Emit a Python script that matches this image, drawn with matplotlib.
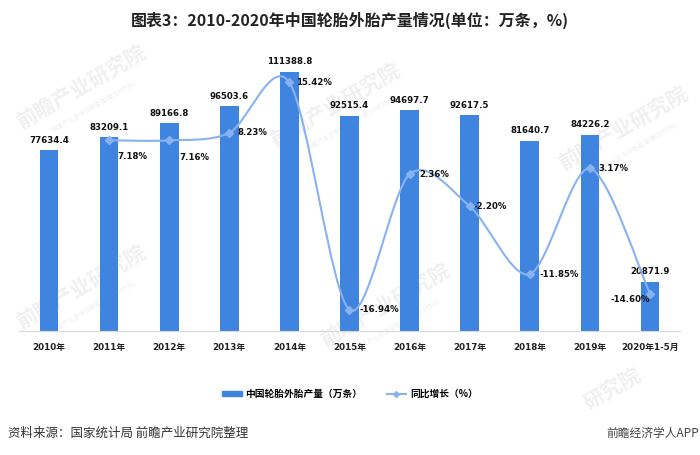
import matplotlib
matplotlib.use("Agg")
from matplotlib import pyplot as plt
from matplotlib.path import Path
from matplotlib.patches import PathPatch
from matplotlib.lines import Line2D
from matplotlib.patches import Patch

plt.rcParams['font.family'] = ['DejaVu Sans', 'Noto Sans CJK SC']

years = ['2010年', '2011年', '2012年', '2013年', '2014年', '2015年',
         '2016年', '2017年', '2018年', '2019年', '2020年1-5月']
output = [77634.4, 83209.1, 89166.8, 96503.6, 111388.8, 92515.4,
          94697.7, 92617.5, 81640.7, 84226.2, 20871.9]
growth = [7.18, 7.16, 8.23, 15.42, -16.94, 2.36, -2.20, -11.85, 3.17, -14.60]
growth_labels = ['7.18%', '7.16%', '8.23%', '15.42%', '-16.94%', '2.36%',
                 '-2.20%', '-11.85%', '3.17%', '-14.60%']

bar_color = '#3F85E0'
line_color = '#88B2F0'

fig = plt.figure(figsize=(7, 4.55), dpi=100)

# faint watermarks behind the chart
wm_pos = [(0.115, 0.81), (0.115, 0.37), (0.479, 0.769), (0.55, 0.33), (0.89, 0.72)]
for wx, wy in wm_pos:
    fig.text(wx, wy, '前瞻产业研究院', ha='center', va='center', rotation=30,
             fontsize=15, fontweight='bold', family=['Noto Sans CJK SC'],
             color='#F0F0F0', zorder=-2)
    fig.text(wx + 0.02, wy - 0.045, '中国产业咨询领导者(股票:839599)', ha='center', va='center',
             rotation=30, fontsize=4.5, family=['Noto Sans CJK SC'], color='#EFEFEF', zorder=-2)
fig.text(0.875, 0.145, '研究院', ha='center', va='center', rotation=30,
         fontsize=15, fontweight='bold', family=['Noto Sans CJK SC'], color='#F0F0F0', zorder=-2)

ax = fig.add_axes([0.0271, 0.2736, 0.9443, 0.5945])
ax.patch.set_visible(False)
ax2 = ax.twinx()

x = list(range(len(years)))
ax.bar(x, output, width=0.31, color=bar_color, zorder=2)
ax.set_xlim(-0.5, 10.5)
ax.set_ylim(0, 116400)
ax2.set_ylim(-19.86, 18.59)

for a in (ax, ax2):
    for s in a.spines.values():
        s.set_visible(False)
    a.set_yticks([])
ax.spines['bottom'].set_visible(True)
ax.spines['bottom'].set_color('#D9D9D9')
ax.tick_params(axis='x', length=0, pad=9)
ax.set_xticks(x)
ax.set_xticklabels(years, fontsize=6.3, fontweight='bold', color='#222222')

for xi, v in zip(x, output):
    ax.annotate(f"{v:.1f}", (xi, v), xytext=(0, 4), textcoords='offset points',
                ha='center', va='bottom', fontsize=6.2, fontweight='bold', color='#111111')

# smoothed growth line (Excel-like smoothing drawn as Bezier path)
gx = x[1:]
pts = list(zip(gx, growth))
verts = [pts[0]]
codes = [Path.MOVETO]
n = len(pts)
k = 0.15
for i in range(n - 1):
    p0 = pts[i - 1] if i > 0 else pts[i]
    p1 = pts[i]
    p2 = pts[i + 1]
    p3 = pts[i + 2] if i + 2 < n else pts[i + 1]
    c1 = (p1[0] + (p2[0] - p0[0]) * k, p1[1] + (p2[1] - p0[1]) * k)
    c2 = (p2[0] - (p3[0] - p1[0]) * k, p2[1] - (p3[1] - p1[1]) * k)
    verts += [c1, c2, p2]
    codes += [Path.CURVE4] * 3
ax2.add_patch(PathPatch(Path(verts, codes), fill=False, edgecolor=line_color, lw=1.5, zorder=3))
ax2.plot(gx, growth, linestyle='none', marker='D', markersize=4, color=line_color, zorder=4)

offsets = [(6, -12), (7, -12), (6, 0), (5, 0), (7, 0), (7, 0), (3, 0), (7, 0), (6, 0), (0, -4)]
for xi, v, lab, off in zip(gx, growth, growth_labels, offsets):
    ha = 'right' if off[0] == 0 else 'left'
    ax2.annotate(lab, (xi, v), xytext=off, textcoords='offset points',
                 ha=ha, va='center', fontsize=6.2, fontweight='bold', color='#111111')

fig.text(0.5, 0.955, '图表3：2010-2020年中国轮胎外胎产量情况(单位：万条，%)',
         ha='center', va='center', fontsize=11.5, fontweight='bold',
         family=['Noto Sans CJK SC'], color='#222222')

handles = [Patch(color=bar_color),
           Line2D([0], [0], color=line_color, lw=1.5, marker='D', markersize=3)]
fig.legend(handles, ['中国轮胎外胎产量（万条）', '同比增长（%）'],
           loc='center', bbox_to_anchor=(0.5, 0.134), ncol=2, frameon=False,
           prop={'family': ['Noto Sans CJK SC'], 'weight': 'bold', 'size': 7},
           handlelength=2.0, handleheight=0.5, columnspacing=2.5, handletextpad=0.4)

fig.text(0.012, 0.048, '资料来源：国家统计局 前瞻产业研究院整理', ha='left', va='center',
         fontsize=9, family=['Noto Sans CJK SC'], color='#333333')
fig.text(0.998, 0.048, '前瞻经济学人APP', ha='right', va='center',
         fontsize=8.5, family=['Noto Sans CJK SC', 'DejaVu Sans'], color='#444444')

fig.savefig('out.png', dpi=100)
